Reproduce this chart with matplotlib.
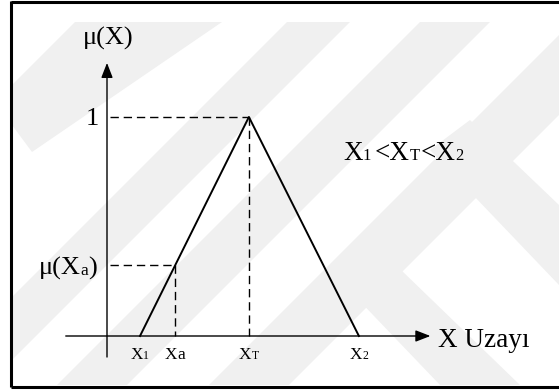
import matplotlib
matplotlib.use("Agg")
import matplotlib.pyplot as plt
from matplotlib.patches import Polygon

plt.rcParams['font.family'] = ['Liberation Serif', 'DejaVu Serif']

# key points on the universe of discourse
x1 = 3.0
xa = 6.2
xt = 12.9
x2 = 22.9
peak = 1.0
mu_a = (xa - x1) / (xt - x1)

# tick labels: main letter, suffix, suffix size
tick_names = [("X", "1", 8.5), ("X", "a", 12.5), ("X", "T", 8.5), ("X", "2", 8.5)]
tick_pos = [x1, xa, xt, x2]

W, H = 559, 392
fig = plt.figure(figsize=(W / 100, H / 100), dpi=100)

# background: faint watermark stripes and frame, in pixel units
bg = fig.add_axes([0, 0, 1, 1])
bg.set_xlim(0, W)
bg.set_ylim(H, 0)
bg.axis('off')
wm = '#f0f0f0'
stripes = [
    [(75, 22), (222, 22), (32, 152), (12, 125), (12, 85)],
    [(287, 22), (350, 22), (12, 360), (12, 297)],
    [(420, 22), (490, 22), (127, 385), (57, 385)],
    [(559, 35), (559, 115), (289, 385), (209, 385)],
    [(430, 150), (470, 120), (559, 205), (559, 285)],
    [(330, 270), (370, 240), (520, 385), (440, 385)],
]
for s in stripes:
    bg.add_patch(Polygon(s, closed=True, fc=wm, ec='none'))
bg.plot([11, 11], [0.5, 387], color='black', lw=2.2, solid_capstyle='butt')
bg.plot([11, W], [1.5, 1.5], color='black', lw=2.2, solid_capstyle='butt')
bg.plot([11, W], [386.5, 386.5], color='black', lw=2.2, solid_capstyle='butt')

# data axes: origin at the crossing of the two arrows
ax = fig.add_axes([0, 0, 1, 1])
ax.patch.set_alpha(0)
ax.set_xlim(-107 / 11, (W - 107) / 11)
ax.set_ylim((336 - H) / 219, 336 / 219)
ax.axis('off')

arrow = dict(arrowstyle='-|>,head_length=0.9,head_width=0.35', color='black',
             lw=1.0, mutation_scale=10, shrinkA=0, shrinkB=0)
ax.annotate('', xy=(29.4, 0), xytext=(-3.75, 0), arrowprops=arrow)
ax.annotate('', xy=(0, 1.247), xytext=(0, -0.096), arrowprops=arrow)

# membership function
ax.plot([x1, xt, x2], [0, peak, 0], color='black', lw=1.4)

dash = dict(color='black', lw=1.0, linestyle=(0, (6, 3.5)))
ax.plot([0.3, xt], [peak, peak], **dash)
ax.plot([xt, xt], [peak, 0], **dash)
ax.plot([0.3, xa], [mu_a, mu_a], **dash)
ax.plot([xa, xa], [mu_a, 0], **dash)

renderer = fig.canvas.get_renderer()


def rich(x, y, parts, ha='left'):
    # pieces of text of different sizes sharing one baseline
    items = []
    off = 0.0
    for s, size in parts:
        t = ax.annotate(s, (x, y), xytext=(off, 0), textcoords='offset points',
                        fontsize=size, va='baseline', ha='left')
        w = t.get_window_extent(renderer).width * 72 / fig.dpi
        items.append((t, off))
        off += w
    shift = {'left': 0, 'center': off / 2, 'right': off}[ha]
    for t, o in items:
        t.set_position((o - shift, 0))


rich(0.1, 1.329, [("μ(X)", 19)], ha='center')
rich(-0.7, 0.963, [("1", 19)], ha='right')
rich(-0.9, 0.2785, [("μ(X", 19), ("a", 12.5), (")", 19)], ha='right')
for (big, small, ssize), xp in zip(tick_names, tick_pos):
    rich(xp, -0.105, [(big, 12.5), (small, ssize)], ha='center')
rich(30.1, -0.05, [("X Uzayı", 19.5)])
rich(21.45, 0.804, [("X", 19.5), ("1 ", 12), ("<X", 19.5), ("T", 12),
                    ("<X", 19.5), ("2", 12)])

fig.savefig('out.png', dpi=100)
